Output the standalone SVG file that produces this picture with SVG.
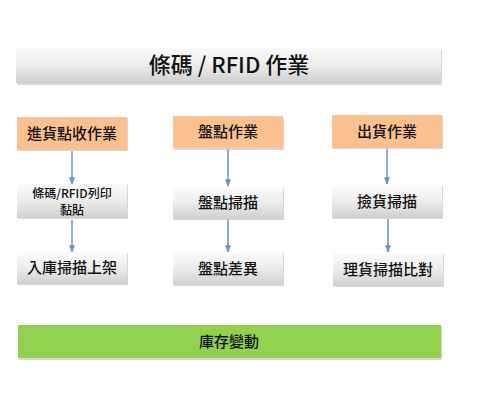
<svg xmlns="http://www.w3.org/2000/svg" width="495" height="400" viewBox="0 0 495 400">
<defs>
<linearGradient id="gray" x1="0" y1="0" x2="0" y2="1">
<stop offset="0" stop-color="#fbfbfb"/>
<stop offset="0.5" stop-color="#ececec"/>
<stop offset="1" stop-color="#cfcfcf"/>
</linearGradient>
<marker id="ah" viewBox="0 0 10 10" refX="9" refY="5" markerWidth="5" markerHeight="5" orient="auto">
<path d="M0,1 L10,5 L0,9 z" fill="#6a92c2"/>
</marker>
<style>
.sh{fill:#bdbdbd;opacity:0.6}
.g{fill:url(#gray)}
.o{fill:#fac090}
.gr{fill:#92d050}
.t{font-family:"Noto Sans CJK TC","Noto Sans CJK SC",sans-serif;font-size:15px;fill:#111;text-anchor:middle;font-weight:500}
.c{stroke:#6a92c2;stroke-width:1.5;fill:none;marker-end:url(#ah)}
</style>
</defs>
<rect width="495" height="400" fill="#fff"/>
<g id="title">
<rect class="sh" x="17" y="50" width="425" height="35"/>
<rect class="g" x="16" y="48" width="425" height="35"/>
<text class="t" x="229" y="73" style="font-size:22px">條碼 / RFID 作業</text>
</g>
<g id="connectors">
<line class="c" x1="72" y1="151" x2="72" y2="184"/>
<line class="c" x1="72" y1="220" x2="72" y2="252"/>
<line class="c" x1="228" y1="149" x2="228" y2="186"/>
<line class="c" x1="228" y1="219" x2="228" y2="252"/>
<line class="c" x1="387" y1="149" x2="387" y2="184"/>
<line class="c" x1="388" y1="219" x2="388" y2="252"/>
</g>
<g id="n1">
<rect class="sh" x="18" y="118" width="110" height="33"/>
<rect class="o" x="17" y="117" width="110" height="33"/>
<text class="t" x="72" y="139">進貨點收作業</text>
</g>
<g id="n2">
<rect class="sh" x="18" y="185" width="110" height="34"/>
<rect class="g" x="17" y="184" width="110" height="34"/>
<text class="t" style="font-size:12px"><tspan x="72" y="197.5">條碼/RFID列印</tspan><tspan x="72" y="215">黏貼</tspan></text>
</g>
<g id="n3">
<rect class="sh" x="18" y="253" width="110" height="32"/>
<rect class="g" x="17" y="252" width="110" height="32"/>
<text class="t" x="72" y="273">入庫掃描上架</text>
</g>
<g id="n4">
<rect class="sh" x="174" y="118" width="110" height="32"/>
<rect class="o" x="173" y="116" width="110" height="32"/>
<text class="t" x="228" y="137">盤點作業</text>
</g>
<g id="n5">
<rect class="sh" x="174" y="188" width="110" height="32"/>
<rect class="g" x="173" y="187" width="110" height="32"/>
<text class="t" x="228" y="208">盤點掃描</text>
</g>
<g id="n6">
<rect class="sh" x="174" y="253" width="110" height="33"/>
<rect class="g" x="173" y="252" width="110" height="33"/>
<text class="t" x="228" y="274">盤點差異</text>
</g>
<g id="n7">
<rect class="sh" x="333" y="116" width="110" height="33"/>
<rect class="o" x="332" y="115" width="110" height="33"/>
<text class="t" x="387" y="137">出貨作業</text>
</g>
<g id="n8">
<rect class="sh" x="333" y="186" width="110" height="33"/>
<rect class="g" x="332" y="185" width="110" height="33"/>
<text class="t" x="387" y="207">撿貨掃描</text>
</g>
<g id="n9">
<rect class="sh" x="334" y="254" width="110" height="33"/>
<rect class="g" x="333" y="253" width="110" height="33"/>
<text class="t" x="388" y="275">理貨掃描比對</text>
</g>
<g id="inventory">
<rect class="sh" x="19" y="326" width="423" height="34"/>
<rect class="gr" x="18" y="325" width="423" height="33"/>
<text class="t" x="229" y="347">庫存變動</text>
</g>
</svg>
